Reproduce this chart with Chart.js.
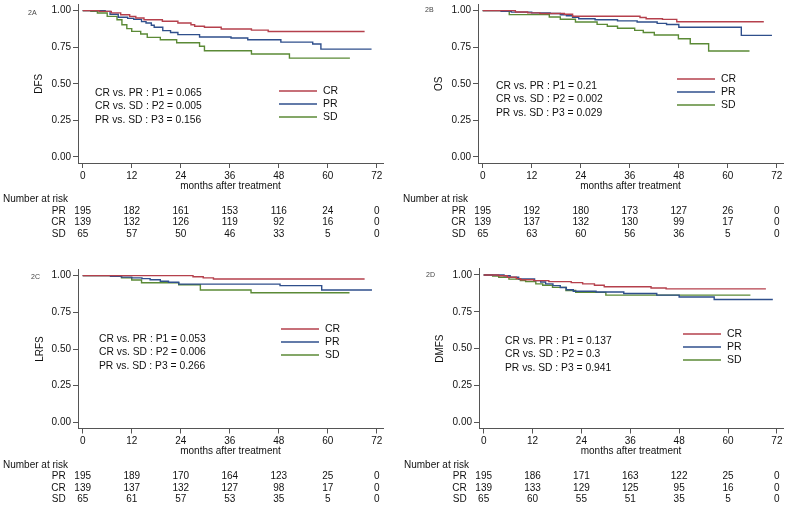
<!DOCTYPE html>
<html>
<head>
<meta charset="utf-8">
<script src="https://cdn.jsdelivr.net/npm/chart.js@4.4.1/dist/chart.umd.min.js"></script>
<style>
  body { margin: 0; background: #fff; width: 787px; height: 509px; position: relative; overflow: hidden; }
  canvas { position: absolute; }
</style>
</head>
<body>
<canvas id="c2a" width="393" height="250" style="left:0;top:0"></canvas>
<canvas id="c2b" width="394" height="250" style="left:393px;top:0"></canvas>
<canvas id="c2c" width="393" height="259" style="left:0;top:250px"></canvas>
<canvas id="c2d" width="394" height="259" style="left:393px;top:250px"></canvas>
<script>
// --- data ---
const xTicks = [0, 12, 24, 36, 48, 60, 72];
const yTicks = [0, 0.25, 0.5, 0.75, 1];
const groups = ['CR', 'PR', 'SD'];
const riskRows = ['PR', 'CR', 'SD'];

// each pair: [month, survival after the step]
// 2A DFS
const dfsCR = [[0,1],[4,0.995],[7,0.985],[9.3,0.972],[11.5,0.96],[13,0.95],[15,0.938],[19.5,0.927],[23.3,0.915],[26.5,0.904],[27.4,0.893],[29.8,0.886],[33.9,0.874],[41.3,0.867],[45.4,0.857],[69,0.857]];
const dfsPR = [[0,1],[5.5,0.995],[6.7,0.975],[8.7,0.955],[11,0.947],[12.5,0.94],[14.4,0.925],[15.5,0.915],[16.8,0.9],[17.5,0.886],[19.6,0.863],[21.5,0.85],[23.3,0.836],[28.6,0.82],[36.3,0.813],[40.4,0.801],[48.5,0.785],[56.3,0.772],[58.3,0.737],[70.7,0.737]];
const dfsSD = [[0,1],[2,0.995],[3.6,0.984],[6,0.961],[8.4,0.938],[9.6,0.904],[10.8,0.877],[12,0.858],[14.2,0.84],[15.8,0.817],[19,0.801],[23,0.78],[28.6,0.756],[29.8,0.726],[41.3,0.703],[50.6,0.675],[65.4,0.675]];
const dfsRiskPR = [195, 182, 161, 153, 116, 24, 0];
const dfsRiskCR = [139, 132, 126, 119, 92, 16, 0];
const dfsRiskSD = [65, 57, 50, 46, 33, 5, 0];
const dfsP = ['CR vs. PR : P1 = 0.065', 'CR vs. SD : P2 = 0.005', 'PR vs. SD : P3 = 0.156'];

// 2B OS
const osCR = [[0,1],[8,0.991],[11,0.985],[14,0.98],[20,0.975],[22,0.962],[38.5,0.953],[40,0.945],[44,0.94],[47.5,0.924],[68.8,0.924]];
const osPR = [[0,1],[4.5,0.995],[7,0.99],[12,0.985],[16.5,0.98],[19,0.972],[20.5,0.965],[22,0.955],[23.5,0.945],[27.5,0.938],[33,0.93],[37.8,0.922],[42.7,0.913],[45,0.905],[48,0.886],[63.3,0.831],[70.8,0.831]];
const osSD = [[0,1],[6.5,0.973],[16.3,0.957],[19,0.941],[22.7,0.922],[28,0.906],[30.5,0.893],[33,0.88],[37.2,0.865],[39.3,0.85],[42,0.833],[47.9,0.808],[50.8,0.774],[55.3,0.724],[65.3,0.724]];
const osRiskPR = [195, 192, 180, 173, 127, 26, 0];
const osRiskCR = [139, 137, 132, 130, 99, 17, 0];
const osRiskSD = [65, 63, 60, 56, 36, 5, 0];
const osP = ['CR vs. PR : P1 = 0.21', 'CR vs. SD : P2 = 0.002', 'PR vs. SD : P3 = 0.029'];

// 2C LRFS
const lrfsCR = [[0,1],[27,0.993],[29.5,0.985],[32,0.977],[69,0.977]];
const lrfsPR = [[0,1],[6.8,0.995],[9.5,0.99],[12,0.985],[14.5,0.98],[16.5,0.972],[19,0.962],[21,0.955],[23.5,0.942],[48.3,0.932],[58.5,0.902],[70.8,0.902]];
const lrfsSD = [[0,1],[9.5,0.985],[12,0.97],[14.4,0.952],[23.5,0.938],[28.8,0.902],[41.2,0.884],[65.3,0.884]];
const lrfsRiskPR = [195, 189, 170, 164, 123, 25, 0];
const lrfsRiskCR = [139, 137, 132, 127, 98, 17, 0];
const lrfsRiskSD = [65, 61, 57, 53, 35, 5, 0];
const lrfsP = ['CR vs. PR : P1 = 0.053', 'CR vs. SD : P2 = 0.006', 'PR vs. SD : P3 = 0.266'];

// 2D DMFS
const dmfsCR = [[0,1],[3.7,0.995],[5.8,0.985],[8,0.975],[9.1,0.968],[12.3,0.962],[16,0.955],[21.5,0.948],[24.3,0.94],[27.2,0.93],[29.6,0.92],[41.1,0.912],[44.8,0.906],[69.3,0.906]];
const dmfsPR = [[0,1],[5,0.995],[6.5,0.985],[8.6,0.973],[12.5,0.962],[14,0.952],[15.2,0.94],[17,0.928],[18.8,0.915],[20.3,0.9],[22,0.89],[27.6,0.885],[34.4,0.874],[42.5,0.863],[48,0.851],[56.6,0.834],[71,0.834]];
const dmfsSD = [[0,1],[2.2,0.992],[3.7,0.985],[6.2,0.972],[9,0.962],[10.3,0.955],[12.8,0.94],[14.5,0.93],[16.9,0.916],[20.2,0.895],[22.6,0.882],[30,0.863],[65.5,0.863]];
const dmfsRiskPR = [195, 186, 171, 163, 122, 25, 0];
const dmfsRiskCR = [139, 133, 129, 125, 95, 16, 0];
const dmfsRiskSD = [65, 60, 55, 51, 35, 5, 0];
const dmfsP = ['CR vs. PR : P1 = 0.137', 'CR vs. SD : P2 = 0.3', 'PR vs. SD : P3 = 0.941'];

// --- styling ---
const FONT = 'Arial, "Liberation Sans", Helvetica, sans-serif';
const colors = { CR: '#b5404c', PR: '#2f4f8c', SD: '#5b8a36' };
const axisColor = '#555';
const textColor = '#111';
const X_H = 29.1; // height of x axis block (ticks + title)

Chart.defaults.font.family = FONT;
Chart.defaults.font.size = 10;
Chart.defaults.color = textColor;

// draws p-values, legend, number-at-risk table and panel tag
const kmExtras = {
  id: 'kmExtras',
  afterDraw(chart, args, opts) {
    const p = opts.panel;
    const ctx = chart.ctx;
    const xs = chart.scales.x;
    ctx.save();
    ctx.font = '10.3px ' + FONT;
    ctx.fillStyle = textColor;
    ctx.textBaseline = 'middle';
    ctx.textAlign = 'left';

    p.pvals.forEach((t, i) => ctx.fillText(t, p.textX, p.textY + i * 13.5));

    ctx.font = '10.5px ' + FONT;
    groups.forEach((g, i) => {
      const y = p.legY + i * 13;
      ctx.strokeStyle = colors[g];
      ctx.lineWidth = 1.3;
      ctx.beginPath();
      ctx.moveTo(p.legX, y);
      ctx.lineTo(p.legX + 38, y);
      ctx.stroke();
      ctx.fillText(g, p.legX + 44, y);
    });

    // number at risk
    ctx.font = '10px ' + FONT;
    const base = chart.chartArea.bottom;
    ctx.fillText('Number at risk', p.riskX, base + 36.5);
    const x0 = xs.getPixelForValue(0);
    riskRows.forEach((g, r) => {
      const y = base + 48 + r * 11.5;
      ctx.textAlign = 'right';
      ctx.fillText(g, x0 - 17, y);
      ctx.textAlign = 'center';
      p.risk[g].forEach((n, i) => ctx.fillText(String(n), xs.getPixelForValue(xTicks[i]), y));
    });

    ctx.font = '7px ' + FONT;
    ctx.textAlign = 'left';
    ctx.fillStyle = '#444';
    ctx.fillText(p.tag, p.tagX, p.tagY);
    ctx.restore();
  }
};

function toPoints(arr) {
  return arr.map(d => ({ x: d[0], y: d[1] }));
}

function makePanel(p) {
  const a = p.area;
  const series = { CR: p.cr, PR: p.pr, SD: p.sd };
  new Chart(document.getElementById(p.id), {
    type: 'line',
    data: {
      datasets: groups.map(g => ({
        label: g,
        data: toPoints(series[g]),
        borderColor: colors[g],
        borderWidth: 1.4,
        pointRadius: 0,
        fill: false,
        stepped: true
      }))
    },
    options: {
      responsive: false,
      animation: false,
      events: [],
      layout: { padding: { left: 0, top: a.top, right: p.w - a.right, bottom: p.h - a.bottom - X_H } },
      plugins: {
        legend: { display: false },
        tooltip: { enabled: false },
        kmExtras: { panel: p }
      },
      scales: {
        x: {
          type: 'linear',
          min: -1.15,
          max: 73.5,
          afterBuildTicks: s => { s.ticks = xTicks.map(v => ({ value: v })); },
          afterFit: s => { s.height = X_H; s.paddingLeft = 0; s.paddingRight = 0; },
          grid: { drawOnChartArea: false, tickLength: 5, color: axisColor },
          border: { color: axisColor, width: 1 },
          ticks: { padding: 2, autoSkip: false, maxRotation: 0, color: textColor, callback: v => String(v) },
          title: { display: true, text: 'months after treatment', padding: 0, color: textColor }
        },
        y: {
          type: 'linear',
          min: -0.042,
          max: 1.042,
          afterBuildTicks: s => { s.ticks = yTicks.map(v => ({ value: v })); },
          afterFit: s => { s.width = a.left; s.paddingTop = 0; s.paddingBottom = 0; },
          grid: { drawOnChartArea: false, tickLength: 5, color: axisColor },
          border: { color: axisColor, width: 1 },
          ticks: { padding: 2, autoSkip: false, color: textColor, callback: v => v.toFixed(2) },
          title: { display: true, text: p.yTitle, font: { size: 10 }, padding: { top: p.yTitleX - 6, bottom: 0 }, color: textColor }
        }
      }
    },
    plugins: [kmExtras]
  });
}

// panel layouts (canvas coordinates)
makePanel({
  id: 'c2a', tag: '2A', yTitle: 'DFS', w: 393, h: 250,
  area: { left: 78, right: 383, top: 4.5, bottom: 163 },
  yTitleX: 39, textX: 95, textY: 93, legX: 279, legY: 91, riskX: 3, tagX: 28, tagY: 13,
  cr: dfsCR, pr: dfsPR, sd: dfsSD, pvals: dfsP,
  risk: { PR: dfsRiskPR, CR: dfsRiskCR, SD: dfsRiskSD }
});
makePanel({
  id: 'c2b', tag: '2B', yTitle: 'OS', w: 394, h: 250,
  area: { left: 85, right: 390, top: 4.5, bottom: 163 },
  yTitleX: 46, textX: 103, textY: 86, legX: 284, legY: 79, riskX: 10, tagX: 32, tagY: 10,
  cr: osCR, pr: osPR, sd: osSD, pvals: osP,
  risk: { PR: osRiskPR, CR: osRiskCR, SD: osRiskSD }
});
makePanel({
  id: 'c2c', tag: '2C', yTitle: 'LRFS', w: 393, h: 259,
  area: { left: 78, right: 383, top: 19.5, bottom: 178.5 },
  yTitleX: 40, textX: 99, textY: 89, legX: 281, legY: 79, riskX: 3, tagX: 31, tagY: 27,
  cr: lrfsCR, pr: lrfsPR, sd: lrfsSD, pvals: lrfsP,
  risk: { PR: lrfsRiskPR, CR: lrfsRiskCR, SD: lrfsRiskSD }
});
makePanel({
  id: 'c2d', tag: '2D', yTitle: 'DMFS', w: 394, h: 259,
  area: { left: 86, right: 390, top: 18.8, bottom: 178.5 },
  yTitleX: 47, textX: 112, textY: 91, legX: 290, legY: 84, riskX: 11, tagX: 33, tagY: 25,
  cr: dmfsCR, pr: dmfsPR, sd: dmfsSD, pvals: dmfsP,
  risk: { PR: dmfsRiskPR, CR: dmfsRiskCR, SD: dmfsRiskSD }
});
</script>
</body>
</html>
